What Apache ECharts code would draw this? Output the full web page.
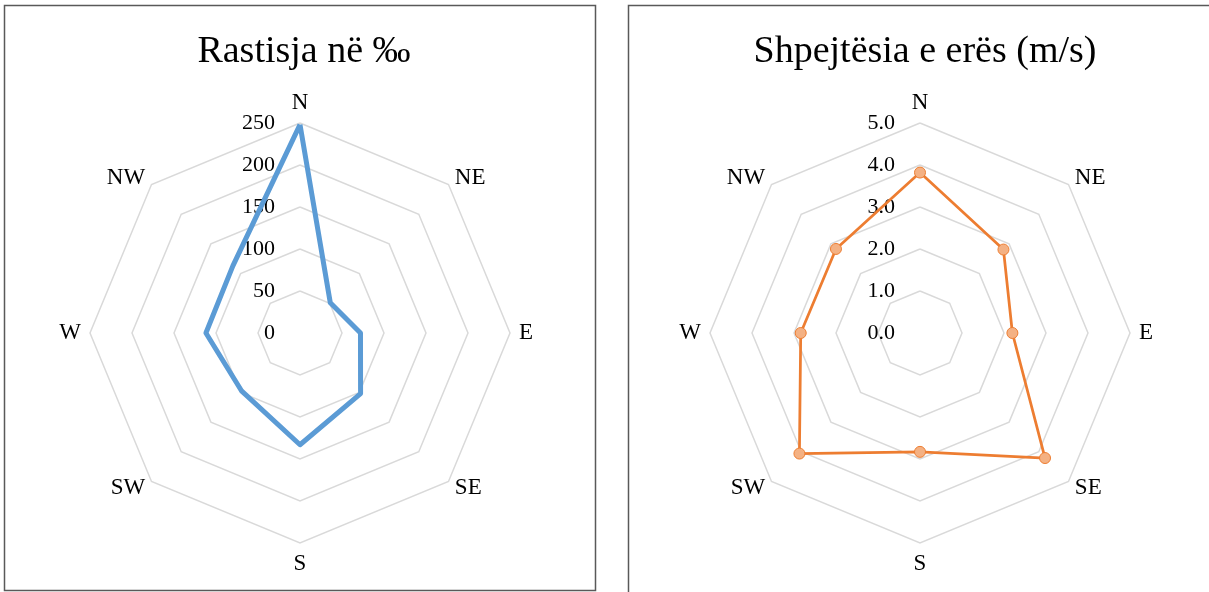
<!DOCTYPE html>
<html>
<head>
<meta charset="utf-8">
<script src="https://cdn.jsdelivr.net/npm/echarts@6/dist/echarts.min.js"></script>
<style>
  html, body { margin: 0; padding: 0; background: #fff; }
  #chart { width: 1209px; height: 592px; }
</style>
</head>
<body>
<div id="chart"></div>
<script>
// Wind directions, clockwise from north
const directions = ['N', 'NE', 'E', 'SE', 'S', 'SW', 'W', 'NW'];
// Frequency per direction (‰)
const frequency = [248, 51, 72, 102, 133, 98, 112, 113];
// Mean wind speed per direction (m/s)
const speed = [3.82, 2.81, 2.2, 4.21, 2.83, 4.06, 2.84, 2.83];

const titles = ['Rastisja në ‰', 'Shpejtësia e erës (m/s)'];
const freqMax = 250;
const speedMax = 5;

// ECharts places radar indicators counter-clockwise; reorder so the
// compass runs clockwise (N, NE, E, ...).
const order = [0, 7, 6, 5, 4, 3, 2, 1];
const reorder = arr => order.map(i => arr[i]);

const FONT = 'Liberation Serif, Times New Roman, serif';

function radarCfg(cx, max, fmt) {
  return {
    center: [cx, 333],
    radius: 210,
    startAngle: 90,
    shape: 'polygon',
    splitNumber: 5,
    nameGap: 9,
    axisName: { color: '#000', fontFamily: FONT, fontSize: 23 },
    indicator: reorder(directions).map((d, i) => {
      const ind = { name: d, min: 0, max: max };
      if (i === 0) {
        ind.axisLabel = {
          show: true, color: '#000', fontFamily: FONT, fontSize: 22,
          margin: 25, formatter: fmt
        };
      }
      return ind;
    }),
    axisLine: { show: false },
    axisTick: { show: false },
    axisLabel: { show: false },
    splitLine: { lineStyle: { color: '#d9d9d9', width: 1.5 } },
    splitArea: { show: false }
  };
}

const chart = echarts.init(document.getElementById('chart'), null, { renderer: 'canvas' });
chart.setOption({
  animation: false,
  title: [
    { text: titles[0], left: 299, top: 28, textAlign: 'center',
      textStyle: { fontFamily: FONT, fontSize: 38, fontWeight: 'normal', color: '#000' } },
    { text: titles[1], left: 920, top: 28, textAlign: 'center',
      textStyle: { fontFamily: FONT, fontSize: 38, fontWeight: 'normal', color: '#000' } }
  ],
  graphic: [
    { type: 'rect', shape: { x: 4.5, y: 5.5, width: 591, height: 585 },
      style: { fill: 'none', stroke: '#595959', lineWidth: 1.5 }, z: -1 },
    { type: 'rect', shape: { x: 628.5, y: 5.5, width: 620, height: 620 },
      style: { fill: 'none', stroke: '#595959', lineWidth: 1.5 }, z: -1 }
  ],
  radar: [
    radarCfg(300, freqMax, v => String(v)),
    radarCfg(920, speedMax, v => Number(v).toFixed(1))
  ],
  series: [
    {
      type: 'radar', radarIndex: 0, symbol: 'none',
      lineStyle: { color: '#5B9BD5', width: 5, join: 'round' },
      data: [{ value: reorder(frequency), name: titles[0] }]
    },
    {
      type: 'radar', radarIndex: 1, symbol: 'circle', symbolSize: 11,
      lineStyle: { color: '#ED7D31', width: 2.75 },
      itemStyle: { color: '#F4B183', borderColor: '#ED7D31', borderWidth: 1 },
      data: [{ value: reorder(speed), name: titles[1] }]
    }
  ]
});
</script>
</body>
</html>
